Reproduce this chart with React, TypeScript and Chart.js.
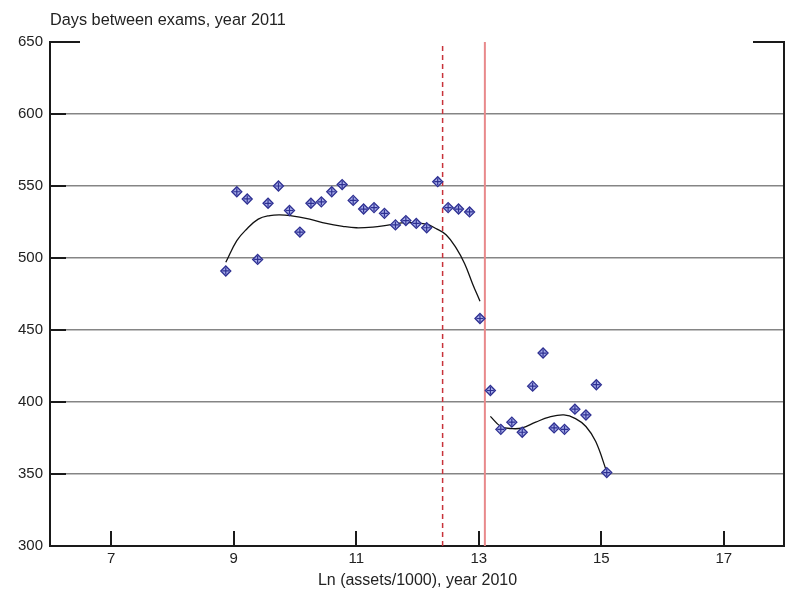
import React, { useEffect, useRef } from 'react';
import { Chart, registerables } from 'chart.js';

Chart.register(...registerables);

// ---- data ----
const xValues = [8.87, 9.05, 9.22, 9.39, 9.56, 9.73, 9.91, 10.08, 10.26, 10.43, 10.6, 10.77, 10.95, 11.12, 11.29, 11.46, 11.64, 11.81, 11.98, 12.15, 12.33, 12.5, 12.67, 12.85, 13.02, 13.19, 13.36, 13.54, 13.71, 13.88, 14.05, 14.23, 14.4, 14.57, 14.75, 14.92, 15.09];
const yValues = [491, 546, 541, 499, 538, 550, 533, 518, 538, 539, 546, 551, 540, 534, 535, 531, 523, 526, 524, 521, 553, 535, 534, 532, 458, 408, 381, 386, 379, 411, 434, 382, 381, 395, 391, 412, 351];

const fit1X = [8.87, 9.05, 9.21, 9.4, 9.59, 9.75, 9.92, 10.24, 10.51, 10.78, 11.0, 11.27, 11.54, 11.82, 12.14, 12.3, 12.47, 12.63, 12.77, 12.9, 13.02];
const fit1Y = [497, 512, 520, 527, 529.5, 530, 529.5, 527, 524, 522, 521, 521.5, 523, 524.5, 523.5, 520.5, 516, 507, 496, 482, 470];

const fit2X = [13.19, 13.36, 13.55, 13.71, 13.93, 14.15, 14.39, 14.58, 14.75, 14.91, 15.09];
const fit2Y = [390, 383, 381.5, 382, 386, 389.5, 391, 388.5, 383, 372.5, 351.5];

const xTickValues = [7, 9, 11, 13, 15, 17];
const yTickValues = [300, 350, 400, 450, 500, 550, 600, 650];
const xRange = [6, 18];
const cutoffDashedX = 12.41;
const cutoffSolidX = 13.1;

const yTitle = 'Days between exams, year 2011';
const xTitle = 'Ln (assets/1000), year 2010';

const FONT = '"Liberation Sans", Arial, sans-serif';

const framePlugin = {
  id: 'frame',
  afterDraw(chart: any) {
    const { ctx, chartArea, scales } = chart;
    const { left, right, top, bottom } = chartArea;
    const x = scales.x;
    const y = scales.y;
    ctx.save();
    ctx.strokeStyle = '#1a1a1a';
    ctx.lineWidth = 2;
    ctx.beginPath();
    // right border
    ctx.moveTo(right - 1, top - 1);
    ctx.lineTo(right - 1, bottom);
    // top short segments
    ctx.moveTo(left, top);
    ctx.lineTo(left + 30, top);
    ctx.moveTo(right - 32, top);
    ctx.lineTo(right, top);
    // left inward ticks
    yTickValues.forEach((v) => {
      if (v === yTickValues[0] || v === yTickValues[yTickValues.length - 1]) return;
      const py = Math.round(y.getPixelForValue(v));
      ctx.moveTo(left, py);
      ctx.lineTo(left + 16, py);
    });
    // bottom inward ticks
    xTickValues.forEach((v) => {
      const px = Math.round(x.getPixelForValue(v));
      ctx.moveTo(px, bottom);
      ctx.lineTo(px, bottom - 15);
    });
    ctx.stroke();
    // y title at top-left
    ctx.fillStyle = '#222';
    ctx.font = '16.3px ' + FONT;
    ctx.textAlign = 'left';
    ctx.textBaseline = 'alphabetic';
    ctx.fillText(yTitle, left, 25);
    ctx.restore();
  },
};

export default function App() {
  const ref = useRef<HTMLCanvasElement | null>(null);

  useEffect(() => {
    if (!ref.current) return;
    const points = xValues.map((v, i) => ({ x: v, y: yValues[i] }));
    const fit1 = fit1X.map((v, i) => ({ x: v, y: fit1Y[i] }));
    const fit2 = fit2X.map((v, i) => ({ x: v, y: fit2Y[i] }));
    const yMin = yTickValues[0];
    const yMax = yTickValues[yTickValues.length - 1];

    const chart = new Chart(ref.current, {
      type: 'scatter',
      data: {
        datasets: [
          {
            data: points,
            showLine: false,
            pointStyle: 'cross',
            pointRadius: 3.5,
            borderColor: '#2e3092',
            borderWidth: 1.2,
            backgroundColor: '#2e3092',
          },
          {
            data: points,
            showLine: false,
            pointStyle: 'rectRot',
            pointRadius: 5,
            backgroundColor: '#a5abe8',
            borderColor: '#2e3092',
            borderWidth: 1.3,
          },
          {
            data: fit1,
            showLine: true,
            pointRadius: 0,
            borderColor: '#111',
            borderWidth: 1.3,
            tension: 0.4,
          },
          {
            data: fit2,
            showLine: true,
            pointRadius: 0,
            borderColor: '#111',
            borderWidth: 1.3,
            tension: 0.4,
          },
          {
            data: [
              { x: cutoffDashedX, y: yMin },
              { x: cutoffDashedX, y: yMax },
            ],
            showLine: true,
            pointRadius: 0,
            borderColor: '#c8323a',
            borderWidth: 1.5,
            borderDash: [5, 4],
          },
          {
            data: [
              { x: cutoffSolidX, y: yMin },
              { x: cutoffSolidX, y: yMax },
            ],
            showLine: true,
            pointRadius: 0,
            borderColor: '#e8898b',
            borderWidth: 2,
          },
        ],
      },
      options: {
        animation: false,
        responsive: false,
        devicePixelRatio: 1,
        layout: { autoPadding: false, padding: { top: 42, right: 0, left: 0, bottom: 0 } },
        plugins: {
          legend: { display: false },
          tooltip: { enabled: false },
          title: { display: false },
        },
        scales: {
          x: {
            type: 'linear',
            min: xRange[0],
            max: xRange[1],
            afterBuildTicks: (scale: any) => {
              scale.ticks = xTickValues.map((v) => ({ value: v }));
            },
            afterFit: (scale: any) => {
              scale.height = 51;
              scale.paddingLeft = 0;
              scale.paddingRight = 0;
            },
            grid: { display: false, drawTicks: false },
            border: { display: true, color: '#1a1a1a', width: 2 },
            ticks: {
              autoSkip: false,
              maxRotation: 0,
              padding: 4,
              color: '#222',
              font: { family: FONT, size: 15 },
            },
            title: {
              display: true,
              text: xTitle,
              color: '#222',
              font: { family: FONT, size: 16 },
              padding: { top: 0, bottom: 7 },
            },
          },
          y: {
            type: 'linear',
            min: yMin,
            max: yMax,
            afterBuildTicks: (scale: any) => {
              scale.ticks = yTickValues.map((v) => ({ value: v }));
            },
            afterFit: (scale: any) => {
              scale.width = 50;
              scale.paddingTop = 0;
              scale.paddingBottom = 0;
            },
            grid: {
              drawTicks: false,
              lineWidth: 1.5,
              color: (c: any) =>
                c.tick && (c.tick.value === yMin || c.tick.value === yMax) ? 'rgba(0,0,0,0)' : '#858585',
            },
            border: { display: true, color: '#1a1a1a', width: 2 },
            ticks: {
              padding: 7,
              color: '#222',
              font: { family: FONT, size: 15 },
            },
          },
        },
      },
      plugins: [framePlugin],
    } as any);

    return () => chart.destroy();
  }, []);

  return (
    <canvas
      ref={ref}
      width={785}
      height={597}
      style={{ position: 'fixed', left: 0, top: 0, width: 785, height: 597, display: 'block', background: '#fff' }}
    />
  );
}
